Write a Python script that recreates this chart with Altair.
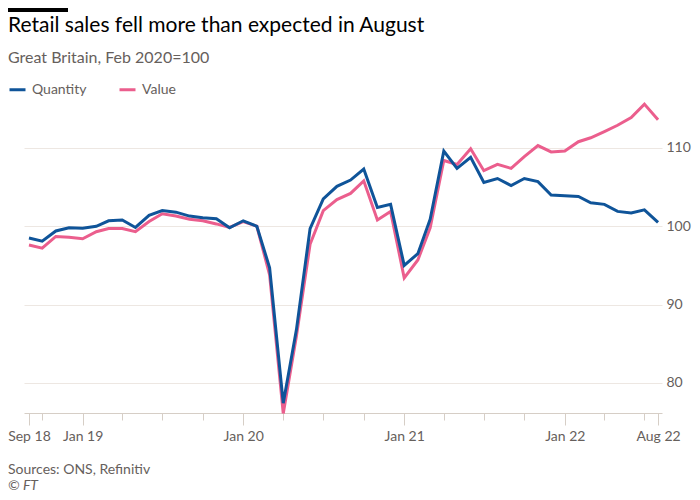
import altair as alt
import pandas as pd

months = pd.date_range("2018-09-01", "2022-08-01", freq="MS").strftime("%Y-%m-%d").tolist()

quantity = [98.5, 98.1, 99.4, 99.8, 99.75, 100.0, 100.7, 100.8, 99.85, 101.4, 102.0, 101.8,
            101.3, 101.1, 100.95, 99.8, 100.7, 100.0, 94.7, 77.4, 86.8, 99.7, 103.5, 105.1,
            105.9, 107.3, 102.4, 102.8, 95.0, 96.5, 100.9, 109.6, 107.4, 108.8, 105.6, 106.1,
            105.2, 106.1, 105.7, 104.0, 103.9, 103.8, 103.0, 102.8, 101.9, 101.7, 102.1, 100.5]

value = [97.6, 97.2, 98.7, 98.6, 98.4, 99.3, 99.7, 99.7, 99.3, 100.6, 101.6, 101.3,
         100.9, 100.7, 100.3, 99.85, 100.6, 100.0, 93.8, 76.1, 86.0, 97.7, 102.0, 103.4,
         104.2, 105.8, 100.8, 101.9, 93.4, 95.7, 99.8, 108.4, 107.9, 109.9, 107.1, 107.9,
         107.4, 108.9, 110.3, 109.5, 109.6, 110.8, 111.3, 112.1, 112.9, 113.9, 115.6, 113.6]

series_names = ["Quantity", "Value"]
series_colors = ["#0f5499", "#eb5e8d"]
y_ticks = [80, 90, 100, 110]

title_text = "Retail sales fell more than expected in August"
subtitle_text = "Great Britain, Feb 2020=100"
source_text = "Sources: ONS, Refinitiv"
credit_text = "© FT"

df = pd.DataFrame({
    "date": months * 2,
    "series": ["Quantity"] * len(months) + ["Value"] * len(months),
    "index": quantity + value,
})

# x-axis tick positions: Sep 18, Oct 18, then quarterly, then Aug 22
tick_dates = [(2018, 9), (2018, 10)]
for yr in range(2019, 2023):
    for m in (1, 4, 7, 10):
        if yr == 2022 and m > 7:
            continue
        tick_dates.append((yr, m))
tick_dates.append((2022, 8))
tick_values = [alt.DateTime(year=y, month=m, date=1, utc=True) for y, m in tick_dates]

FONT = "Lato"
GREY = "#66605c"
AXIS_LINE = "#d6cec6"
GRID = "#ede7e2"
LEFT = -16  # plot-relative x of the chart's left edge

label_test = ("utcmonth(datum.value)==0 || (utcyear(datum.value)==2018 && utcmonth(datum.value)==8)"
              " || (utcyear(datum.value)==2022 && utcmonth(datum.value)==7)")

x_enc = alt.X(
    "date:T",
    scale=alt.Scale(type="utc",
                    domain=[alt.DateTime(year=2018, month=8, date=20, hours=16, utc=True),
                            alt.DateTime(year=2022, month=8, date=10, utc=True)]),
    axis=alt.Axis(
        values=tick_values,
        labelExpr=f"({label_test}) ? utcFormat(datum.value, '%b %y') : ''",
        tickSize={"condition": {"test": label_test, "value": 12}, "value": 7},
        grid=False,
        domainColor=AXIS_LINE,
        tickColor=AXIS_LINE,
        labelColor=GREY,
        labelFont=FONT,
        labelFontSize=14,
        labelPadding=4,
        labelOverlap=False,
        labelFlush=False,
        labelBound=False,
        title=None,
    ),
)

y_enc = alt.Y(
    "index:Q",
    scale=alt.Scale(domain=[76.15, 116], zero=False, nice=False),
    axis=alt.Axis(
        orient="right",
        values=y_ticks,
        grid=True,
        gridColor=GRID,
        domain=False,
        ticks=False,
        labelColor=GREY,
        labelFont=FONT,
        labelFontSize=14,
        labelPadding=4,
        labelBaseline="middle",
        title=None,
    ),
)

color_enc = alt.Color(
    "series:N",
    scale=alt.Scale(domain=series_names, range=series_colors),
    legend=alt.Legend(
        orient="none",
        legendX=LEFT,
        legendY=-21,
        direction="horizontal",
        title=None,
        symbolType="stroke",
        symbolSize=256,
        symbolStrokeWidth=3,
        labelFont=FONT,
        labelFontSize=14,
        labelColor=GREY,
        labelOffset=5,
        columnPadding=26,
    ),
)

base = alt.Chart(df)
value_line = base.transform_filter(alt.datum.series == "Value").mark_line(strokeWidth=3).encode(
    x=x_enc, y=y_enc, color=color_enc)
quantity_line = base.transform_filter(alt.datum.series == "Quantity").mark_line(strokeWidth=3).encode(
    x=x_enc, y=y_enc, color=color_enc)


def text_layer(txt, x, y, size, color, style="normal"):
    return alt.Chart(pd.DataFrame({"t": [txt]})).mark_text(
        align="left", baseline="alphabetic", font=FONT, fontSize=size, color=color,
        fontStyle=style,
    ).encode(text="t:N", x=alt.value(x), y=alt.value(y))


title = text_layer(title_text, LEFT, -69, 21, "#000000")
subtitle = text_layer(subtitle_text, LEFT, -38, 16, GREY)
source = text_layer(source_text, LEFT, 373, 14, GREY)
credit = text_layer(credit_text, LEFT, 389, 14, GREY, "italic")

bar = alt.Chart(pd.DataFrame({"a": [0]})).mark_rule(color="#000000", strokeWidth=4).encode(
    x=alt.value(LEFT), x2=alt.value(LEFT + 60), y=alt.value(-91), y2=alt.value(-91))

chart = alt.layer(value_line, quantity_line, title, subtitle, source, credit, bar).properties(
    width=638,
    height=312,
    padding={"left": 16, "top": 93, "right": 30, "bottom": 79},
    autosize=alt.AutoSizeParams(type="none"),
    background="#ffffff",
).configure_view(stroke=None)

chart.save("out.html", embed_options={"renderer": "svg", "actions": False})
